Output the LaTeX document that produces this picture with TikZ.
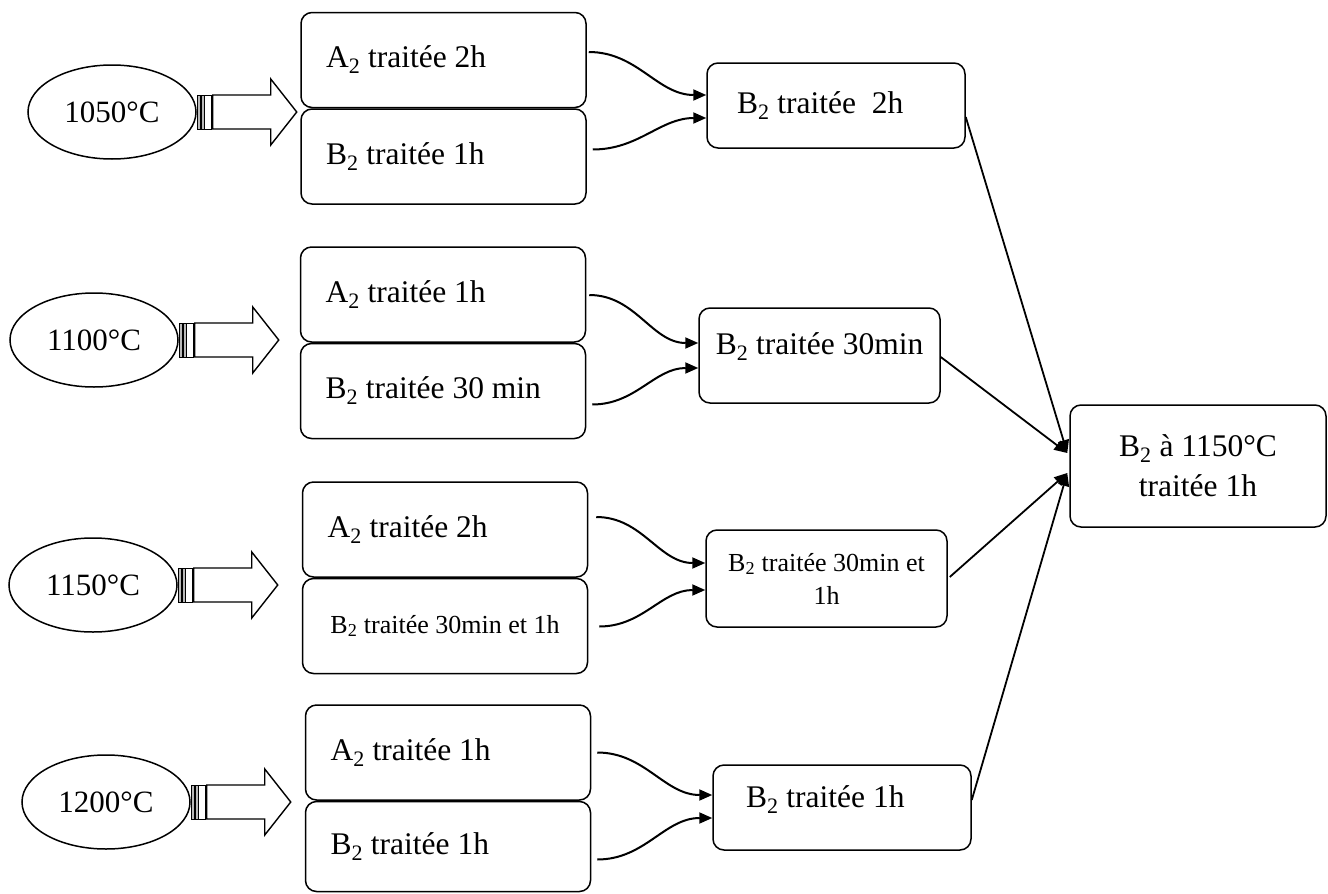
\documentclass[tikz,border=0pt]{standalone}
\usepackage{fontspec}
\setmainfont{Liberation Serif}
\usetikzlibrary{positioning}
\usetikzlibrary{shapes.geometric,arrows.meta}

% striped block arrow leaving a temperature ellipse
\newcommand{\stripedarrow}[1]{%
  \begin{scope}[shift={(#1.east)},line width=1pt]
    \draw[fill=gray!55] (1,-17) rectangle (4,17);
    \draw[fill=gray!55] (5,-17) rectangle (8,17);
    \draw[fill=white] (8,-17) rectangle (15,17);
    \draw[line width=1.4pt] (16,-17) -- (74,-17) -- (74,-33) -- (100,0)
        -- (74,33) -- (74,17) -- (16,17) -- cycle;
  \end{scope}}
% left aligned line of fixed width
\newcommand{\lline}[2]{\makebox[#1][l]{#2}}

\begin{document}
\begin{tikzpicture}[x=1pt,y=-1pt,>={Triangle[length=13pt,width=11pt]},
                    node distance=0pt,line width=1.5pt,
    oven/.style={draw,ellipse,minimum width=168pt,minimum height=94pt,
                 inner sep=0pt,font=\fontsize{31}{36}\selectfont},
    cell/.style={draw,rounded corners=11pt,inner xsep=25pt,
                 inner ysep=0pt,minimum height=95pt,
                 font=\fontsize{31.5}{36}\selectfont},
    res/.style={draw,rounded corners=11pt,inner ysep=0pt,
                font=\fontsize{31.5}{40}\selectfont},
    link/.style={->,line width=2pt,out=0,in=180},
    tofinal/.style={->,line width=1.8pt}]
\useasboundingbox (0,0) rectangle (1328,894);

% 1050
\node[oven] (e1) at (112,112) {1050°C};
\node[cell] (a1) at (443.5,60) {\lline{235pt}{A\textsubscript{2} traitée 2h}};
\node[cell,below = of a1] (b1) {\lline{235pt}{B\textsubscript{2} traitée 1h}};
\stripedarrow{e1}
\node[res,inner xsep=30pt,minimum height=85pt]
     (m1) at (836,105.5) {\lline{198pt}{B\textsubscript{2} traitée\ \ 2h}};

% 1100
\node[oven] (e2) at (94,340) {1100°C};
\node[cell] (a2) at (443,294.5) {\lline{235pt}{A\textsubscript{2} traitée 1h}};
\node[cell,below = of a2] (b2) {\lline{235pt}{B\textsubscript{2} traitée 30 min}};
\stripedarrow{e2}
\node[res,minimum width=241pt,minimum height=95pt,text depth=24pt]
     (m2) at (819.5,355.5) {B\textsubscript{2} traitée 30min};

% 1150
\node[oven] (e3) at (93,585) {1150°C};
\node[cell] (a3) at (445,529.5) {\lline{235pt}{A\textsubscript{2} traitée 2h}};
\node[cell,minimum width=285pt,below = of a3,font=\fontsize{26}{30}\selectfont]
     (b3) {B\textsubscript{2} traitée 30min et 1h};
\stripedarrow{e3}
\node[res,minimum width=241pt,minimum height=97pt,align=center,
      font=\fontsize{26}{33}\selectfont]
     (m3) at (826.5,578.5) {B\textsubscript{2} traitée 30min et\\1h};

% 1200
\node[oven] (e4) at (106,802) {1200°C};
\node[cell] (a4) at (448,752.5) {\lline{235pt}{A\textsubscript{2} traitée 1h}};
\node[cell,below = of a4,minimum height=90pt] (b4) {\lline{235pt}{B\textsubscript{2} traitée 1h}};
\stripedarrow{e4}
\node[res,inner xsep=33pt,minimum height=85pt,text depth=22pt]
     (m4) at (842,807.5) {\lline{192pt}{B\textsubscript{2} traitée 1h}};

% final sample
\node[res,minimum width=256pt,minimum height=122pt,align=center]
     (f) at (1198,466) {B\textsubscript{2} à 1150°C\\traitée 1h};

\path ([shift={(2,-8)}]a1.east) edge[link] ([shift={(0,-10.5)}]m1.west)
      ([shift={(6,-7)}]b1.east) edge[link] ([shift={(0,12.5)}]m1.west)
      ([shift={(3,0.5)}]a2.east) edge[link] ([shift={(0,-12.5)}]m2.west)
      ([shift={(6,13.5)}]b2.east) edge[link] ([shift={(0,12.5)}]m2.west)
      ([shift={(8,-12.5)}]a3.east) edge[link] ([shift={(0,-15.5)}]m3.west)
      ([shift={(11,0.5)}]b3.east) edge[link] ([shift={(0,11.5)}]m3.west)
      ([shift={(6,0)}]a4.east) edge[link] ([shift={(0,-12.5)}]m4.west)
      ([shift={(6,13)}]b4.east) edge[link] ([shift={(0,10.5)}]m4.west);

\path ([shift={(0,11.5)}]m1.east) edge[tofinal] ([shift={(-2,-13)}]f.west)
      ([shift={(0,1.5)}]m2.east) edge[tofinal] ([shift={(-2,-13)}]f.west)
      ([shift={(2,-1.5)}]m3.east) edge[tofinal] ([shift={(-2,7)}]f.west)
      ([shift={(0,-7.5)}]m4.east) edge[tofinal] ([shift={(-2,7)}]f.west);
\end{tikzpicture}
\end{document}
